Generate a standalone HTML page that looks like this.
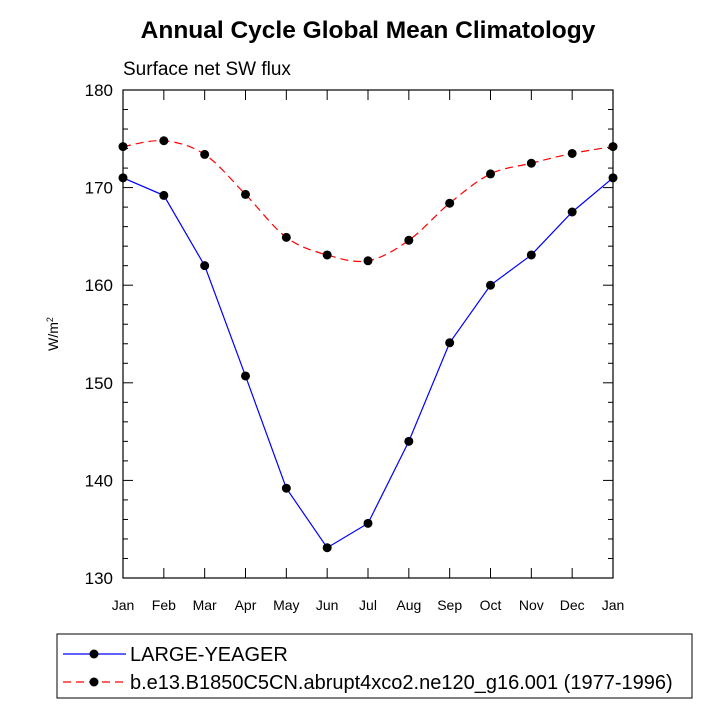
<!DOCTYPE html>
<html><head><meta charset="utf-8"><style>
body{margin:0;background:#fff;font-family:"Liberation Sans",sans-serif}
</style></head><body>
<svg id="c" width="720" height="720" xmlns="http://www.w3.org/2000/svg" font-family="Liberation Sans, sans-serif">
<text x="368" y="38" text-anchor="middle" font-size="24.5" font-weight="bold">Annual Cycle Global Mean Climatology</text>
<text x="123" y="75" font-size="19">Surface net SW flux</text>
<text transform="translate(58,334) rotate(-90)" text-anchor="middle" font-size="14">W/m<tspan dy="-5" font-size="9">2</tspan></text>
<g id="axes"></g><g id="series"></g>
<rect x="57" y="634" width="635" height="64" fill="none" stroke="#000" stroke-width="1"/>
<g>
<line x1="63" y1="654" x2="126" y2="654" stroke="#00f" stroke-width="1.2"/><circle cx="94" cy="654" r="4.5"/>
<text x="130" y="661" font-size="20">LARGE-YEAGER</text></g>
<g>
<line x1="63" y1="682" x2="126" y2="682" stroke="#f00" stroke-width="1.2" stroke-dasharray="8,5"/><circle cx="94" cy="682" r="4.5"/>
<text x="130" y="689" font-size="20">b.e13.B1850C5CN.abrupt4xco2.ne120_g16.001 (1977-1996)</text></g>
</svg>
<script>
const months=["Jan","Feb","Mar","Apr","May","Jun","Jul","Aug","Sep","Oct","Nov","Dec","Jan"];
const yTicks=[130,140,150,160,170,180];
const blueVals=[171.0,169.2,162.0,150.7,139.2,133.1,135.6,144.0,154.1,160.0,163.1,167.5,171.0];
const redVals=[174.2,174.8,173.4,169.3,164.9,163.1,162.5,164.6,168.4,171.4,172.5,173.5,174.2];
const NS="http://www.w3.org/2000/svg";
const L=123,R=613,T=90,B=578,ymin=130,ymax=180;
const xs=i=>L+(R-L)*i/(months.length-1);
const ys=v=>B-(v-ymin)/(ymax-ymin)*(B-T);
function mk(t,a,p){const e=document.createElementNS(NS,t);for(const k in a)e.setAttribute(k,a[k]);p.appendChild(e);return e;}
const ax=document.getElementById('axes');
const frame=mk('rect',{x:L,y:T,width:R-L,height:B-T,fill:'none',stroke:'#000','stroke-width':1.2},ax);


for(let v=ymin;v<=ymax;v+=2){const y=ys(v);const len=(v%10===0)?10:5;
mk('line',{x1:L,y1:y,x2:L+len,y2:y,stroke:'#000'},ax);mk('line',{x1:R,y1:y,x2:R-len,y2:y,stroke:'#000'},ax);}
yTicks.forEach(v=>{const t=mk('text',{x:L-10,y:ys(v)+6,'text-anchor':'end','font-size':17},ax);t.textContent=v;

});
months.forEach((m,i)=>{const x=xs(i);mk('line',{x1:x,y1:B,x2:x,y2:B-10,stroke:'#000'},ax);mk('line',{x1:x,y1:T,x2:x,y2:T+10,stroke:'#000'},ax);
const t=mk('text',{x:x,y:B+32,'text-anchor':'middle','font-size':14},ax);t.textContent=m;

});
const sg=document.getElementById('series');
function smooth(pts){let d=`M${pts[0][0]},${pts[0][1]}`;for(let i=0;i<pts.length-1;i++){const p0=pts[Math.max(i-1,0)],p1=pts[i],p2=pts[i+1],p3=pts[Math.min(i+2,pts.length-1)];
d+=` C${p1[0]+(p2[0]-p0[0])/6},${p1[1]+(p2[1]-p0[1])/6} ${p2[0]-(p3[0]-p1[0])/6},${p2[1]-(p3[1]-p1[1])/6} ${p2[0]},${p2[1]}`;}return d;}
const rp=redVals.map((v,i)=>[xs(i),ys(v)]);
const red=mk('path',{d:smooth(rp),fill:'none',stroke:'#f00','stroke-width':1.2,'stroke-dasharray':'8,5'},sg);


const blue=mk('polyline',{points:blueVals.map((v,i)=>xs(i)+','+ys(v)).join(' '),fill:'none',stroke:'#00f','stroke-width':1.2},sg);


[[blueVals,'point-large-yeager'],[redVals,'point-b-e13']].forEach(([arr,n])=>arr.forEach((v,i)=>{const c=mk('circle',{cx:xs(i),cy:ys(v),r:4.5},sg);

}));
</script>
</body></html>
